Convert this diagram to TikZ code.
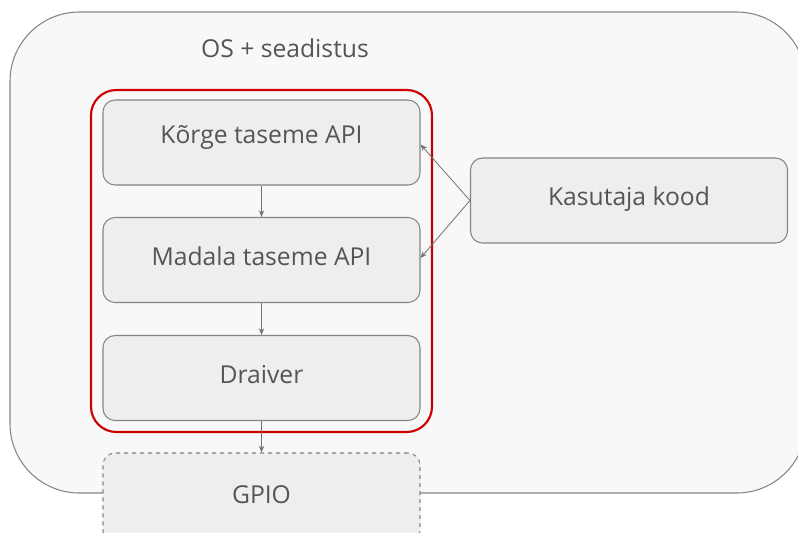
\documentclass[tikz,border=0pt]{standalone}
\usepackage{fontspec}
\usetikzlibrary{arrows.meta}
\setmainfont{Open Sans}
\definecolor{txtgray}{HTML}{555555}
\definecolor{boxfill}{HTML}{EEEEEE}
\definecolor{boxline}{HTML}{858585}
\definecolor{osfill}{HTML}{F8F8F8}
\definecolor{osred}{HTML}{CC0000}
\tikzset{
  layer/.style={draw=boxline, fill=boxfill, rounded corners=9pt, line width=0.8pt,
    minimum width=237.75pt, minimum height=63.75pt, text=txtgray,
    font=\fontsize{18.5}{22}\selectfont, text height=1.5ex, text depth=0ex},
  conn/.style={-{Stealth[length=5pt,width=4pt]}, draw=boxline!85!black, line width=0.6pt}
}
\begin{document}
\begin{tikzpicture}[x=0.75pt,y=-0.75pt]
  \clip (0,0) rectangle (798,532);
  % OS kast
  \draw[draw=boxline, fill=osfill, line width=0.8pt, rounded corners=52pt] (10,12) rectangle (806,493);
  \node[text=txtgray, font=\fontsize{18.5}{22}\selectfont] (os) at (285,48) {OS + seadistus};
  % punane raam
  \draw[draw=osred, line width=1.6pt, rounded corners=19pt] (91,90) rectangle (432,432);

  \node[layer, text depth=7pt] (korge) at (261.5,142.5) {Kõrge taseme API};
  \node[layer] (madala) at (261.5,260) {Madala taseme API};
  \node[layer] (draiver) at (261.5,378) {Draiver};
  \node[layer, dashed, minimum height=67.5pt] (gpio) at (261.5,498) {GPIO};
  \node[layer] (kood) at (629,200.5) {Kasutaja kood};

  \draw[conn] (korge) -- (madala);
  \draw[conn] (madala) -- (draiver);
  \draw[conn] (draiver) -- (gpio);
  \draw[conn] (kood.west) -- ([yshift=-1.5pt]korge.east);
  \draw[conn] (kood.west) -- ([yshift=1.5pt]madala.east);
\end{tikzpicture}
\end{document}
